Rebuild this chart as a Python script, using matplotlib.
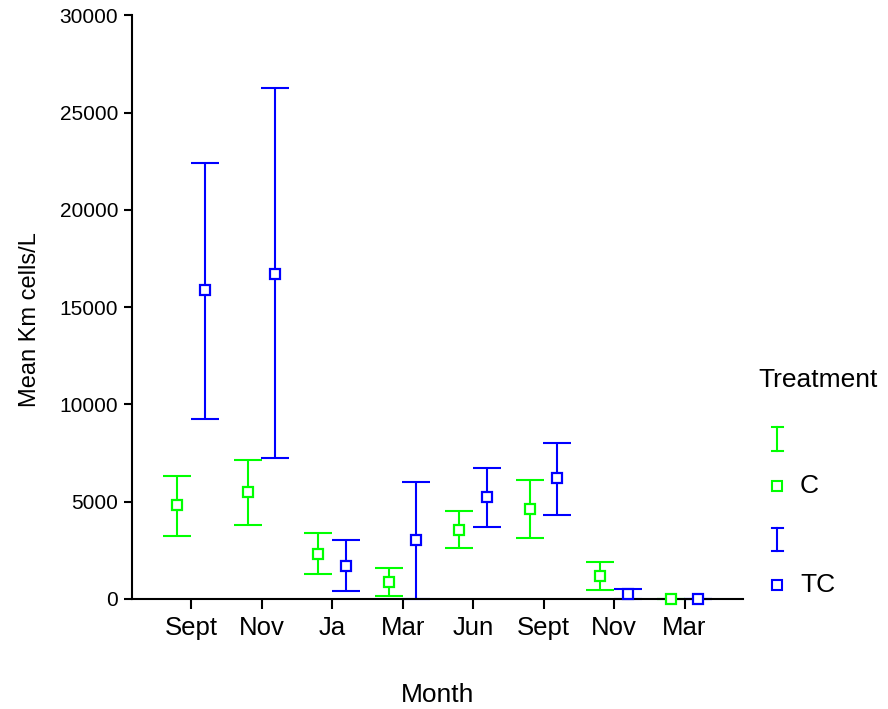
import matplotlib
matplotlib.use("Agg")
import matplotlib.pyplot as plt
from matplotlib.lines import Line2D
import numpy as np

plt.rcParams['font.family'] = ['Liberation Sans', 'DejaVu Sans']

months = ["Sept", "Nov", "Ja", "Mar", "Jun", "Sept", "Nov", "Mar"]

# treatment C
c_mean = [4830, 5510, 2310, 890, 3530, 4630, 1200, 0]
c_low = [3220, 3800, 1300, 170, 2600, 3120, 480, 0]
c_high = [6320, 7130, 3410, 1610, 4520, 6120, 1900, 0]

# treatment TC
tc_mean = [15880, 16700, 1710, 3020, 5230, 6240, 270, 0]
tc_low = [9250, 7230, 390, 0, 3720, 4320, 0, 0]
tc_high = [22430, 26260, 3020, 6030, 6730, 8030, 500, 0]

GREEN = "#00ff00"
BLUE = "#0000ff"
W, H = 888, 709


def px(x, y):
    return x / W, 1 - y / H


def draw_series(ax, xs, mean, low, high, color):
    mean = np.array(mean, float)
    yerr = [mean - np.array(low), np.array(high) - mean]
    ax.errorbar(xs, mean, yerr=yerr, fmt="none", ecolor=color,
                elinewidth=1.5, capsize=10, capthick=1.5, clip_on=False, zorder=2)
    ax.plot(xs, mean, "s", ms=7.5, mfc="white", mec=color, mew=1.6,
            clip_on=False, zorder=3)


fig = plt.figure(figsize=(W / 100, H / 100), dpi=100)
ax = fig.add_axes([132 / W, 1 - 599 / H, (743 - 132) / W, (599 - 15.3) / H])

x = np.arange(len(months))
off = 0.195
draw_series(ax, x - off, c_mean, c_low, c_high, GREEN)
draw_series(ax, x + off, tc_mean, tc_low, tc_high, BLUE)

ax.set_xlim(-0.84, 7.83)
ax.set_ylim(0, 30000)
ax.set_yticks(np.arange(0, 30001, 5000))
ax.set_xticks(x)
ax.set_xticklabels(months, fontsize=18.5)
ax.tick_params(axis="y", labelsize=15, length=6, width=1.5, pad=4)
ax.tick_params(axis="x", length=7, width=1.5, pad=5)

for s in ["top", "right"]:
    ax.spines[s].set_visible(False)
for s in ["left", "bottom"]:
    ax.spines[s].set_linewidth(1.5)

fig.text(*px(438, 695), "Month", fontsize=19, ha="center", va="center")
fig.text(*px(30, 320), "Mean Km cells/L", fontsize=17, rotation=90,
         ha="center", va="center")

# legend
fig.text(*px(758, 380), "Treatment", fontsize=19, ha="left", va="center")
for color, y_bar, y_box, label in [(GREEN, (427, 451), 486, "C"),
                                   (BLUE, (528, 551), 585, "TC")]:
    xa, ya0 = px(777, y_bar[0])
    _, ya1 = px(777, y_bar[1])
    fig.add_artist(Line2D([xa, xa], [ya0, ya1], color=color, lw=1.5))
    for yy in (ya0, ya1):
        fig.add_artist(Line2D([xa - 5.5 / W, xa + 5.5 / W], [yy, yy],
                              color=color, lw=1.5))
    fig.add_artist(Line2D([xa], [px(0, y_box)[1]], marker="s", ms=7,
                          mfc="white", mec=color, mew=1.5, ls="none"))
    fig.text(*px(800, y_box), label, fontsize=19, ha="left", va="center")

fig.savefig("out.png", dpi=100)
